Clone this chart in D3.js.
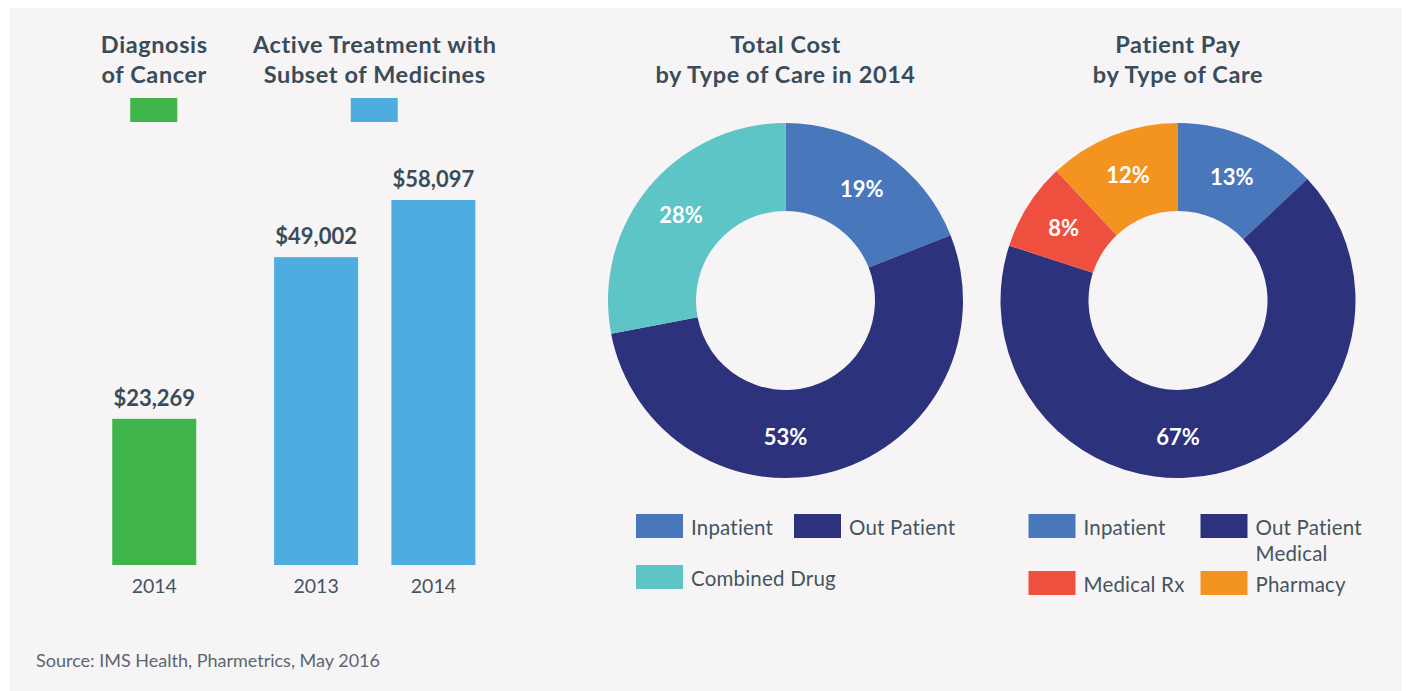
<!DOCTYPE html>
<html>
<head>
<meta charset="utf-8">
<script src="https://cdn.jsdelivr.net/npm/d3@7"></script>
<style>
  body { margin: 0; background: #ffffff; }
  svg { display: block; font-family: Lato, "Open Sans", sans-serif; }
</style>
</head>
<body>
<div id="chart"></div>
<script>
// ---- data ----
const barGroups = ["Diagnosis of Cancer", "Active Treatment with Subset of Medicines"];
const barGroupTitles = [["Diagnosis", "of Cancer"], ["Active Treatment with", "Subset of Medicines"]];
const barYears = [["2014"], ["2013", "2014"]];
const barValues = [[23269], [49002, 58097]];
const barColors = ["#3fb54b", "#4eade0"];

const totalCostTitle = ["Total Cost", "by Type of Care in 2014"];
const totalCostLabels = ["Inpatient", "Out Patient", "Combined Drug"];
const totalCostValues = [19, 53, 28];
const totalCostColors = ["#4877bb", "#2d327c", "#5dc5c6"];

const patientPayTitle = ["Patient Pay", "by Type of Care"];
const patientPayLabels = ["Inpatient", "Out Patient Medical", "Medical Rx", "Pharmacy"];
const patientPayValues = [13, 67, 8, 12];
const patientPayColors = ["#4877bb", "#2d327c", "#ef4f3e", "#f49420"];

const sourceNote = "Source: IMS Health, Pharmetrics, May 2016";

const titleCol = "#3a4c59";
const textCol = "#45555f";

const W = 1406, H = 691;
const svg = d3.select("#chart").append("svg")
    .attr("width", W)
    .attr("height", H);

// panel background
svg.append("rect")
    .attr("x", 10).attr("y", 8)
    .attr("width", 1392).attr("height", H - 8)
    .attr("fill", "#f6f4f5");

// ---- bar chart ----
const baseY = 565;
const barWidth = 84;

const x0 = d3.scaleBand()
    .domain(barGroups)
    .range([44, 485]);

const y = d3.scaleLinear()
    .domain([0, d3.max(barValues.flat())])
    .range([baseY, 200]);

barGroups.forEach((g, gi) => {
    const x1 = d3.scalePoint()
        .domain(barYears[gi])
        .range([0, x0.bandwidth()])
        .padding(0.44);

    const grp = svg.append("g")
        .attr("transform", `translate(${x0(g)},0)`);

    const cx = x0.bandwidth() / 2;

    // group title
    grp.append("text")
        .attr("text-anchor", "middle")
        .attr("font-weight", "bold")
        .attr("font-size", 23.5)
        .attr("letter-spacing", 0.6)
        .attr("fill", titleCol)
        .selectAll("tspan")
        .data(barGroupTitles[gi])
        .enter()
        .append("tspan")
        .attr("x", cx)
        .attr("y", (d, i) => 53 + i * 30)
        .text(d => d);

    // legend swatch
    grp.append("rect")
        .attr("x", cx - 24)
        .attr("y", 98)
        .attr("width", 47)
        .attr("height", 24)
        .attr("fill", barColors[gi]);

    const bars = barYears[gi].map((yr, i) => ({ year: yr, value: barValues[gi][i] }));

    grp.selectAll("rect.bar")
        .data(bars)
        .enter()
        .append("rect")
        .attr("class", "bar")
        .attr("x", d => x1(d.year) - barWidth / 2)
        .attr("y", d => y(d.value))
        .attr("width", barWidth)
        .attr("height", d => y(0) - y(d.value))
        .attr("fill", barColors[gi]);

    grp.selectAll("text.val")
        .data(bars)
        .enter()
        .append("text")
        .attr("class", "val")
        .attr("text-anchor", "middle")
        .attr("x", d => x1(d.year))
        .attr("y", d => y(d.value) - 13)
        .attr("font-weight", "bold")
        .attr("font-size", 22)
        .attr("fill", titleCol)
        .text(d => "$" + d3.format(",")(d.value));

    grp.selectAll("text.yr")
        .data(bars)
        .enter()
        .append("text")
        .attr("class", "yr")
        .attr("text-anchor", "middle")
        .attr("x", d => x1(d.year))
        .attr("y", 593)
        .attr("font-size", 19.5)
        .attr("fill", textCol)
        .text(d => d.year);
});

// ---- donuts ----
function drawDonut(cx, title, labels, values, colors, legendCols, legendRowStep) {
    const outerR = 177.5, innerR = 89.5;
    const g = svg.append("g").attr("transform", `translate(${cx},300.5)`);

    svg.append("text")
        .attr("text-anchor", "middle")
        .attr("font-weight", "bold")
        .attr("font-size", 23.5)
        .attr("letter-spacing", 0.6)
        .attr("fill", titleCol)
        .selectAll("tspan")
        .data(title)
        .enter()
        .append("tspan")
        .attr("x", cx)
        .attr("y", (d, i) => 53 + i * 30)
        .text(d => d);

    const data = labels.map((l, i) => ({ label: l, value: values[i], color: colors[i] }));
    const pie = d3.pie().sort(null).value(d => d.value);
    const arc = d3.arc().innerRadius(innerR).outerRadius(outerR);
    const arcs = pie(data);

    g.selectAll("path")
        .data(arcs)
        .enter()
        .append("path")
        .attr("d", arc)
        .attr("fill", d => d.data.color);

    const labelR = (innerR + outerR) / 2 + 2;
    g.selectAll("text.pct")
        .data(arcs)
        .enter()
        .append("text")
        .attr("class", "pct")
        .attr("text-anchor", "middle")
        .attr("dominant-baseline", "central")
        .attr("font-weight", "bold")
        .attr("font-size", 22)
        .attr("fill", "#ffffff")
        .attr("transform", d => {
            // big slices that wrap the bottom get their label at the bottom
            let a = (d.startAngle + d.endAngle) / 2;
            if (d.startAngle < Math.PI && d.endAngle > Math.PI) a = Math.PI;
            return `translate(${Math.sin(a) * labelR},${-Math.cos(a) * labelR})`;
        })
        .text(d => d.data.value + "%");

    // legend
    const lg = svg.append("g").attr("transform", `translate(${cx - 149.5},514)`);
    const items = lg.selectAll("g")
        .data(data)
        .enter()
        .append("g")
        .attr("transform", (d, i) => `translate(${legendCols[i % 2]},${Math.floor(i / 2) * legendRowStep})`);

    items.append("rect")
        .attr("width", 47)
        .attr("height", 24)
        .attr("fill", d => d.color);

    items.append("text")
        .attr("font-size", 20.5)
        .attr("letter-spacing", 0.2)
        .attr("fill", textCol)
        .selectAll("tspan")
        .data(d => d.label === "Out Patient Medical" ? ["Out Patient", "Medical"] : [d.label])
        .enter()
        .append("tspan")
        .attr("x", 55)
        .attr("y", (d, i) => 21 + i * 26)
        .text(d => d);
}

drawDonut(785.5, totalCostTitle, totalCostLabels, totalCostValues, totalCostColors, [0, 158], 51);
drawDonut(1178, patientPayTitle, patientPayLabels, patientPayValues, patientPayColors, [0, 172], 57);

svg.append("text")
    .attr("x", 36)
    .attr("y", 667)
    .attr("font-size", 18)
    .attr("fill", "#5a6770")
    .text(sourceNote);
</script>
</body>
</html>
